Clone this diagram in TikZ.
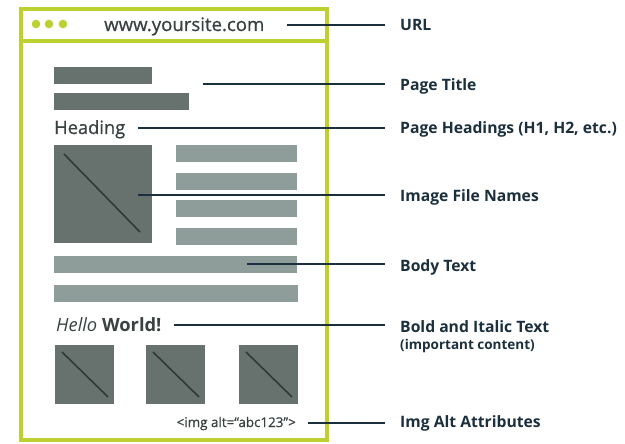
\documentclass[tikz,border=0pt]{standalone}
\usepackage{fontspec}
\setmainfont{Open Sans}
\newfontfamily\pagefont[FakeBold=0.8]{Open Sans}
\definecolor{lime}{HTML}{BCD030}
\definecolor{slate}{HTML}{67726F}
\definecolor{sage}{HTML}{8E9C9A}
\definecolor{ink}{HTML}{1B2F3C}
\definecolor{txtgray}{HTML}{3A4141}
\definecolor{diag}{HTML}{2F3A38}
\tikzset{
  blk/.style={fill=slate, inner sep=0, outer sep=0, anchor=north west},
  bar/.style={fill=sage, inner sep=0, outer sep=0, anchor=north west, minimum height=17},
  leader/.style={draw=ink, line width=2},
  lbl/.style={anchor=base west, inner sep=0, text=ink, font=\bfseries\fontsize{15.7}{18}\selectfont},
  pagetxt/.style={inner sep=0, text=txtgray},
  slash/.style={draw=diag, line width=1.6},
}
\begin{document}
\begin{tikzpicture}[x=1pt,y=-1pt]
\useasboundingbox (0,0) rectangle (625,444);
% browser window
\draw[lime, line width=4] (21,9) rectangle (327,440);
\draw[lime, line width=4] (21,41) -- (327,41);
\foreach \x in {36,49,63} \fill[lime] (\x,24) circle (4.3);
\node[pagetxt, anchor=base west, font=\pagefont\fontsize{18.6}{20}\selectfont] (url) at (104,31) {www.yoursite.com};
\coordinate (urlpt) at (287,25);
% page title bars
\node[blk, minimum width=98, minimum height=17] (t1) at (54,67) {};
\node[blk, minimum width=135, minimum height=17] (t2) at (54,93) {};
\coordinate (titlept) at (203,84);
% heading
\node[pagetxt, anchor=base west, font=\pagefont\fontsize{18.3}{20}\selectfont] (head) at (54,134) {Heading};
\coordinate (headpt) at (138,128);
% big image and text column
\node[blk, minimum width=98, minimum height=98] (img) at (54,145) {};
\draw[slash] (64,154) -- (140,232);
\foreach \y/\n in {145/a,173/b,200/c,228/d}
  \node[bar, minimum width=121] (c\n) at (176,\y) {};
\coordinate (imgpt) at (138,195);
% body text bars
\node[bar, minimum width=243] (b1) at (54,256) {};
\node[bar, minimum width=244] (b2) at (54,285) {};
\coordinate (bodypt) at (247,264);
% bold/italic line
\node[pagetxt, anchor=base west, font=\fontsize{18.3}{20}\selectfont] (hello) at (56,331.5) {\textit{Hello} \textbf{World!}};
\coordinate (hellopt) at (174,325);
% small images
\foreach \x/\n in {55/p,146/q,239/r}{
  \node[blk, minimum width=59, minimum height=59] (s\n) at (\x,345) {};
  \draw[slash] (\x+7,352) -- (\x+53,397);
}
\node[pagetxt, anchor=base east, font=\pagefont\fontsize{13.4}{15}\selectfont] (alt) at (296,427) {<img alt=“abc123”>};
\coordinate (altpt) at (308,423);
% labels
\node[lbl] (lUrl) at (400,31) {URL};
\node[lbl] (lTitle) at (400,90.5) {Page Title};
\node[lbl] (lHead) at (400,134) {Page Headings (H1, H2, etc.)};
\node[lbl] (lImg) at (400,201) {Image File Names};
\node[lbl] (lBody) at (400,271) {Body Text};
\node[lbl] (lBold) at (400,332.5) {Bold and Italic Text};
\node[lbl, font=\bfseries\fontsize{13.5}{15}\selectfont] (lBoldSub) at (400,349.5) {(important content)};
\node[lbl] (lAlt) at (400,427.5) {Img Alt Attributes};
% leaders
\draw[leader] (urlpt) -- ([xshift=-15]lUrl.base west |- urlpt);
\draw[leader] (titlept) -- ([xshift=-15]lTitle.base west |- titlept);
\draw[leader] (headpt) -- ([xshift=-15]lHead.base west |- headpt);
\draw[leader] (imgpt) -- ([xshift=-15]lImg.base west |- imgpt);
\draw[leader] (bodypt) -- ([xshift=-15]lBody.base west |- bodypt);
\draw[leader] (hellopt) -- ([xshift=-15]lBold.base west |- hellopt);
\draw[leader] (altpt) -- ([xshift=-15]lAlt.base west |- altpt);
\end{tikzpicture}
\end{document}
